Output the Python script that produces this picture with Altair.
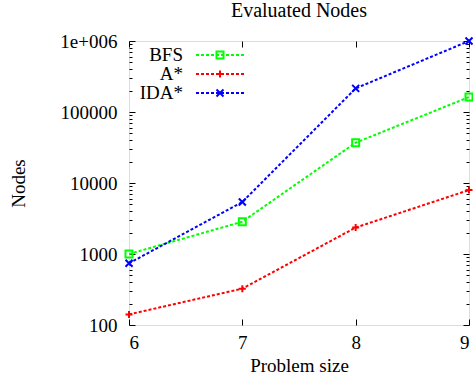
import altair as alt
import pandas as pd

# ---- data ----
sizes = [6, 7, 8, 9]
bfs = [1000, 2850, 37000, 162000]
astar = [141, 325, 2360, 7950]
ida = [740, 5400, 215000, 1000000]
series = ["BFS", "A*", "IDA*"]
colors = ["#00ff00", "#ff0000", "#0000ff"]
shapes = ["square", "M -1 0 L 1 0 M 0 -1 L 0 1", "M -1 -1 L 1 1 M -1 1 L 1 -1"]
x_ticks = [6, 7, 8, 9]
y_major = [100, 1000, 10000, 100000, 1000000]
y_minor = [m * 10 ** k for k in range(2, 6) for m in range(2, 10)]

FONT = "Liberation Serif"
FS = 19

rows = []
for name, vals in zip(series, [bfs, astar, ida]):
    for s, v in zip(sizes, vals):
        rows.append({"size": s, "nodes": v, "series": name})
df = pd.DataFrame(rows)
leg_df = pd.DataFrame({"series": series})

xs = alt.Scale(domain=[6, 9], nice=False, zero=False)
ys = alt.Scale(type="log", domain=[100, 1000000], nice=False)
cs = alt.Scale(domain=series, range=colors)
ss = alt.Scale(domain=series, range=shapes)

common = dict(grid=False, domain=False, tickColor="black", tickWidth=1,
              labelFont=FONT, labelFontSize=FS, labelColor="black",
              titleFont=FONT, titleFontSize=FS, titleFontWeight="normal", titleColor="black")

x_bottom = alt.Axis(orient="bottom", values=x_ticks, format="d", offset=-6, tickSize=6,
                    labelPadding=8, title="Problem size", titlePadding=4, **common)
x_top = alt.Axis(orient="top", values=x_ticks, offset=-6, tickSize=6, labels=False,
                 title=None, **common)
y_left = alt.Axis(orient="left", values=y_major, offset=-6, tickSize=6, labelPadding=12,
                  labelExpr="datum.value >= 1000000 ? '1e+006' : format(datum.value, 'd')",
                  title="Nodes", titlePadding=31, **common)
y_left_minor = alt.Axis(orient="left", values=y_minor, offset=-3, tickSize=3, labels=False,
                        title=None, **common)
y_right = alt.Axis(orient="right", values=y_major, offset=-6, tickSize=6, labels=False,
                   title=None, **common)
y_right_minor = alt.Axis(orient="right", values=y_minor, offset=-3, tickSize=3, labels=False,
                         title=None, **common)

base = alt.Chart(df)
color = alt.Color("series:N", scale=cs, legend=None)
shape = alt.Shape("series:N", scale=ss, legend=None)

LW = 2
lines = base.mark_line(strokeDash=[3, 2], strokeWidth=LW).encode(
    x=alt.X("size:Q", scale=xs, axis=x_bottom),
    y=alt.Y("nodes:Q", scale=ys, axis=y_left),
    color=color,
    detail="series:N",
)
points = base.mark_point(filled=False, size=49, strokeWidth=2, opacity=1).encode(
    x=alt.X("size:Q", scale=xs, axis=x_top),
    y=alt.Y("nodes:Q", scale=ys, axis=y_left_minor),
    color=color,
    shape=shape,
)
ghost1 = base.mark_point(opacity=0).encode(
    x=alt.X("size:Q", scale=xs, axis=None),
    y=alt.Y("nodes:Q", scale=ys, axis=y_right),
)
ghost2 = base.mark_point(opacity=0).encode(
    x=alt.X("size:Q", scale=xs, axis=None),
    y=alt.Y("nodes:Q", scale=ys, axis=y_right_minor),
)
data_layer = alt.layer(lines, points, ghost1, ghost2).resolve_axis(x="independent", y="independent")

ly = alt.Y("series:N", scale=alt.Scale(type="point", domain=series, range=[14, 52], padding=0), axis=None)
leg = alt.Chart(leg_df)
leg_text = leg.mark_text(align="right", baseline="middle", font=FONT, fontSize=FS, color="black").encode(
    x=alt.value(54), y=ly, text="series:N")
leg_rule = leg.mark_rule(strokeDash=[3, 2], strokeWidth=LW).encode(
    x=alt.value(67), x2=alt.value(116), y=ly, color=color)
leg_pt = leg.mark_point(filled=False, size=49, strokeWidth=2, opacity=1).encode(
    x=alt.value(91), y=ly, color=color, shape=shape)

chart = alt.layer(data_layer, leg_text, leg_rule, leg_pt).resolve_scale(y="independent").properties(
    width=340,
    height=284,
    title=alt.TitleParams("Evaluated Nodes", font=FONT, fontSize=20, fontWeight="normal",
                          color="black", anchor="middle", offset=11),
    autosize=alt.AutoSizeParams(type="none"),
    padding={"left": 129, "top": 41, "right": 4, "bottom": 58},
).configure_view(stroke="black", strokeWidth=1.2).configure(background="white")

chart.save("out.html", embed_options={"renderer": "svg", "actions": False})
